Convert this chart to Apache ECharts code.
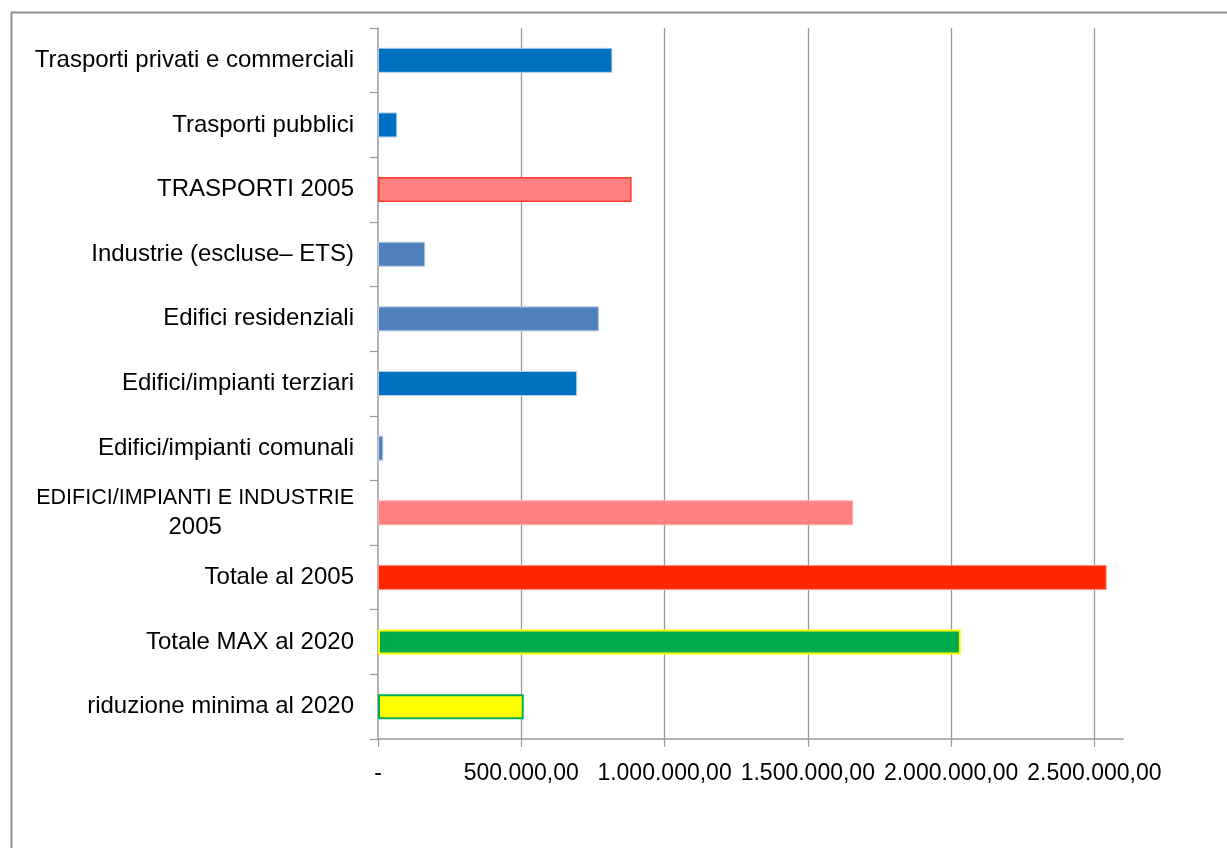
<!DOCTYPE html>
<html>
<head>
<meta charset="utf-8">
<script src="https://cdn.jsdelivr.net/npm/echarts@6/dist/echarts.min.js"></script>
<style>
html,body{margin:0;padding:0;background:#fff;}
#chart{width:1227px;height:848px;}
</style>
</head>
<body>
<div id="chart"></div>
<script>
const categories = [
  'Trasporti privati e commerciali',
  'Trasporti pubblici',
  'TRASPORTI 2005',
  'Industrie (escluse\u2013 ETS)',
  'Edifici residenziali',
  'Edifici/impianti terziari',
  'Edifici/impianti comunali',
  'EDIFICI/IMPIANTI E INDUSTRIE\n2005',
  'Totale al 2005',
  'Totale MAX al 2020',
  'riduzione minima al 2020'
];
const values = [818000, 67000, 885000, 165000, 771000, 695000, 18500, 1658000, 2543000, 2034000, 508600];
const xTicks = [0, 500000, 1000000, 1500000, 2000000, 2500000];

const barColors = ['#0070C0','#0070C0','#FF8080','#4F81BD','#4F81BD','#0070C0','#4F81BD','#FF8080','#FF2600','#00AB4E','#FFFF00'];
const barBorders = ['#A9CDEB','#A9CDEB','#FF3B2A','#B9CDE5','#B9CDE5','#A9CDEB','#B9CDE5','#FFB0B0','#FF9080','#FFFF00','#00B050'];
const barBorderWidths = [1,1,1.5,1,1,1,1,1,1,2,2];

function fmtIt(v){
  if (v === 0) return '-';
  const s = Math.round(v).toString().replace(/\B(?=(\d{3})+(?!\d))/g, '.');
  return s + ',00';
}

const chart = echarts.init(document.getElementById('chart'), null, {renderer:'canvas'});
const FONT = 'Liberation Sans';
const FS = 24;
chart.setOption({
  animation: false,
  backgroundColor: '#fff',
  graphic: [{
    type: 'rect', left: 9, top: 10,
    shape: {x: 0, y: 0, width: 1400, height: 1000},
    style: {fill: 'none', stroke: '#8f8f8f', lineWidth: 2},
    silent: true
  }],
  grid: {left: 378, right: 104, top: 28, bottom: 109, containLabel: false, outerBoundsMode: 'none'},
  xAxis: {
    type: 'value', min: 0, max: 2600000, interval: 500000,
    axisLine: {show: true, lineStyle: {color: '#9a9a9a', width: 1.5}},
    axisTick: {show: true, length: 8, lineStyle: {color: '#9a9a9a', width: 1.2}, customValues: xTicks},
    axisLabel: {
      customValues: xTicks,
      formatter: fmtIt, color: '#000', fontFamily: FONT, fontSize: 23, margin: 23
    },
    splitLine: {show: true, showMinLine: false, lineStyle: {color: '#9a9a9a', width: 1.3}}
  },
  yAxis: {
    type: 'category', data: categories, inverse: true,
    axisLine: {show: true, lineStyle: {color: '#9a9a9a', width: 1.5}},
    axisTick: {show: true, length: 8, lineStyle: {color: '#9a9a9a', width: 1.2}},
    axisLabel: {
      color: '#000', fontFamily: FONT, fontSize: FS, margin: 24,
      lineHeight: 30,
      formatter: function(v){
        if (v.indexOf('\n') >= 0) {
          const parts = v.split('\n');
          return '{u|' + parts[0] + '}\n{n|' + parts[1] + '}';
        }
        return v;
      },
      rich: {
        u: {align: 'center', fontFamily: FONT, fontSize: 21.5, color: '#000', lineHeight: 30},
        n: {align: 'center', fontFamily: FONT, fontSize: FS, color: '#000', lineHeight: 30}
      }
    },
    splitLine: {show: false}
  },
  series: [{
    type: 'bar',
    barWidth: 25,
    data: values.map(function(v, i){
      return {value: v, itemStyle: {color: barColors[i], borderColor: barBorders[i], borderWidth: barBorderWidths[i]}};
    })
  }]
});
</script>
</body>
</html>
